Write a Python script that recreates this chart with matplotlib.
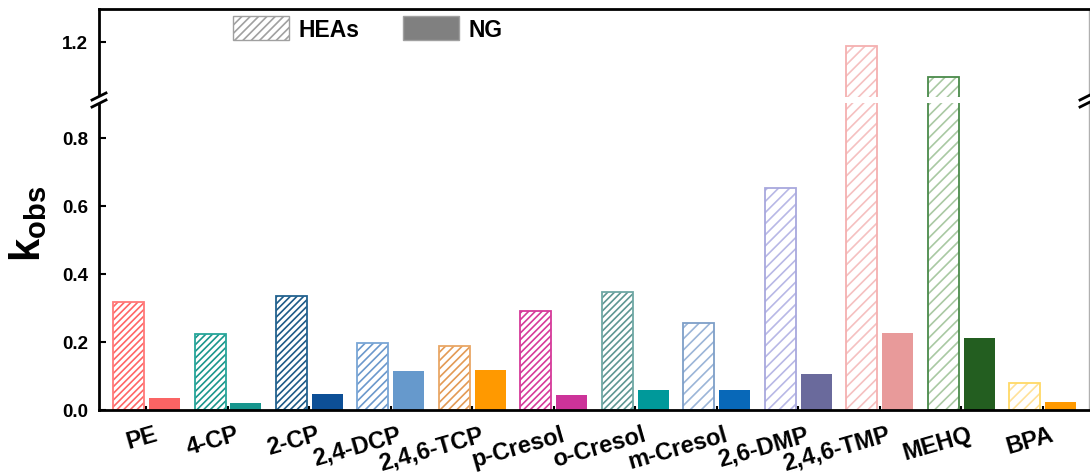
import matplotlib
matplotlib.use("Agg")
import matplotlib.pyplot as plt
from matplotlib.patches import Patch, Rectangle
from matplotlib.lines import Line2D
from matplotlib.transforms import ScaledTranslation
import numpy as np

plt.rcParams['font.family'] = ['Liberation Sans', 'DejaVu Sans']
plt.rcParams['font.weight'] = 'bold'
plt.rcParams['mathtext.fontset'] = 'custom'
plt.rcParams['mathtext.rm'] = 'Liberation Sans'
plt.rcParams['mathtext.bf'] = 'Liberation Sans:bold'
plt.rcParams['hatch.linewidth'] = 1.2

# data
compounds = ['PE', '4-CP', '2-CP', '2,4-DCP', '2,4,6-TCP', 'p-Cresol', 'o-Cresol',
             'm-Cresol', '2,6-DMP', '2,4,6-TMP', 'MEHQ', 'BPA']
k_hea = [0.316, 0.222, 0.334, 0.196, 0.186, 0.291, 0.345, 0.255, 0.651, 1.186, 1.097, 0.080]
k_ng = [0.033, 0.020, 0.046, 0.114, 0.117, 0.044, 0.058, 0.057, 0.104, 0.225, 0.210, 0.022]

# colours (edge, hatch, solid)
hea_edge = ['#FF7A7A', '#26A69A', '#23628F', '#7AA6D6', '#E9A766', '#D63A9A', '#6FA8A5',
            '#7E9FC8', '#A8A8DD', '#F5B0B0', '#4A8A4A', '#FFD966']
hea_hatch = ['#FF6666', '#1A968C', '#1D5A87', '#6B98CC', '#E39A55', '#D63A9A', '#5E9692',
             '#9BB5D8', '#B8B8E6', '#F5C0C0', '#A9C9A3', '#FFE199']
hatches = ['/////', '/////', '/////', '////', '////', '/////', '/////',
           '///', '///', '///', '///', '///']
ng_color = ['#FA6464', '#17968E', '#0D4F96', '#6699CC', '#FF9900', '#CC3399', '#00999A',
            '#0868B8', '#6A6A9C', '#E89A9A', '#235E20', '#FF9900']

x = np.arange(1, len(compounds) + 1)
w = 0.38
off = 0.22

fig = plt.figure(figsize=(10.9, 4.77), dpi=100)
L, R = 99 / 1090, 1089 / 1090
bot, brk, top = 1 - 410.7 / 477, 1 - 101 / 477, 1 - 10 / 477
ax = fig.add_axes([L, bot, R - L, brk - bot])
ax2 = fig.add_axes([L, brk, R - L, top - brk], sharex=ax)

for a in (ax, ax2):
    a.bar(x - off, k_hea, w, color='white', edgecolor=hea_hatch, hatch=hatches, linewidth=0)
    a.bar(x - off, k_hea, w, fill=False, edgecolor=hea_edge, linewidth=1.3)
    a.bar(x + off, k_ng, w, color=ng_color, linewidth=0)
    a.spines['left'].set_linewidth(2)
    a.spines['right'].set_linewidth(1)
    a.spines['right'].set_color('#B0B0B0')
    a.tick_params(axis='y', direction='in', length=5, width=1.5, pad=8, labelsize=13.5)

ax.set_ylim(0, 0.911)
ax2.set_ylim(1.0285, 1.296)
ax.set_xlim(0.417, 12.57)
ax.set_yticks([0.0, 0.2, 0.4, 0.6, 0.8])
ax.set_yticklabels(['0.0', '0.2', '0.4', '0.6', '0.8'])
ax2.set_yticks([1.2])
ax2.set_yticklabels(['1.2'])
ax.spines['top'].set_visible(False)
ax.spines['bottom'].set_linewidth(2)
ax2.spines['bottom'].set_visible(False)
ax2.spines['top'].set_linewidth(2)
ax2.tick_params(axis='x', bottom=False, labelbottom=False)

ax.set_xticks(x)
ax.tick_params(axis='x', direction='in', length=3, width=1.5, pad=9)
ax.set_xticklabels(compounds, fontsize=17, rotation=16, ha='right', va='top',
                   rotation_mode='anchor')
shift = ScaledTranslation(7 / 100, 0, fig.dpi_scale_trans)
for lab in ax.get_xticklabels():
    lab.set_transform(lab.get_transform() + shift)

# y label
fig.text(28 / 1090, 1 - 224 / 477, r'$\mathbf{k_{obs}}$', fontsize=30, rotation=90,
         ha='center', va='center')

# white gap through the bars at the break
gap_h = 6 / 477
fig.add_artist(Rectangle((L + 1.5 / 1090, brk - gap_h / 2), R - L - 3 / 1090, gap_h,
                         transform=fig.transFigure, facecolor='white', edgecolor='none'))

# break marks on both spines
for xs in (L, R - 2 / 1090):
    fig.add_artist(Rectangle((xs - 4 / 1090, brk - 3 / 477), 8 / 1090, 6 / 477,
                             transform=fig.transFigure, facecolor='white', edgecolor='none'))
    for dy in (-3.5, 3.5):
        fig.add_artist(Line2D([xs - 7 / 1090, xs + 7 / 1090],
                              [brk + (dy - 3.5) / 477, brk + (dy + 3.5) / 477],
                              transform=fig.transFigure, color='black', linewidth=2))

# legend
handles = [Patch(facecolor='white', edgecolor='#A0A0A0', hatch='////', linewidth=1),
           Patch(facecolor='#808080', edgecolor='#A0A0A0', linewidth=1)]
fig.legend(handles, ['HEAs', 'NG'], loc='upper left',
           bbox_to_anchor=(233 / 1090, 1 - 17 / 477), ncol=2, frameon=False,
           fontsize=16.5, handlelength=2.45, handleheight=1.25, handletextpad=0.4,
           columnspacing=1.9, borderpad=0, borderaxespad=0)

fig.savefig('out.png', dpi=100)
